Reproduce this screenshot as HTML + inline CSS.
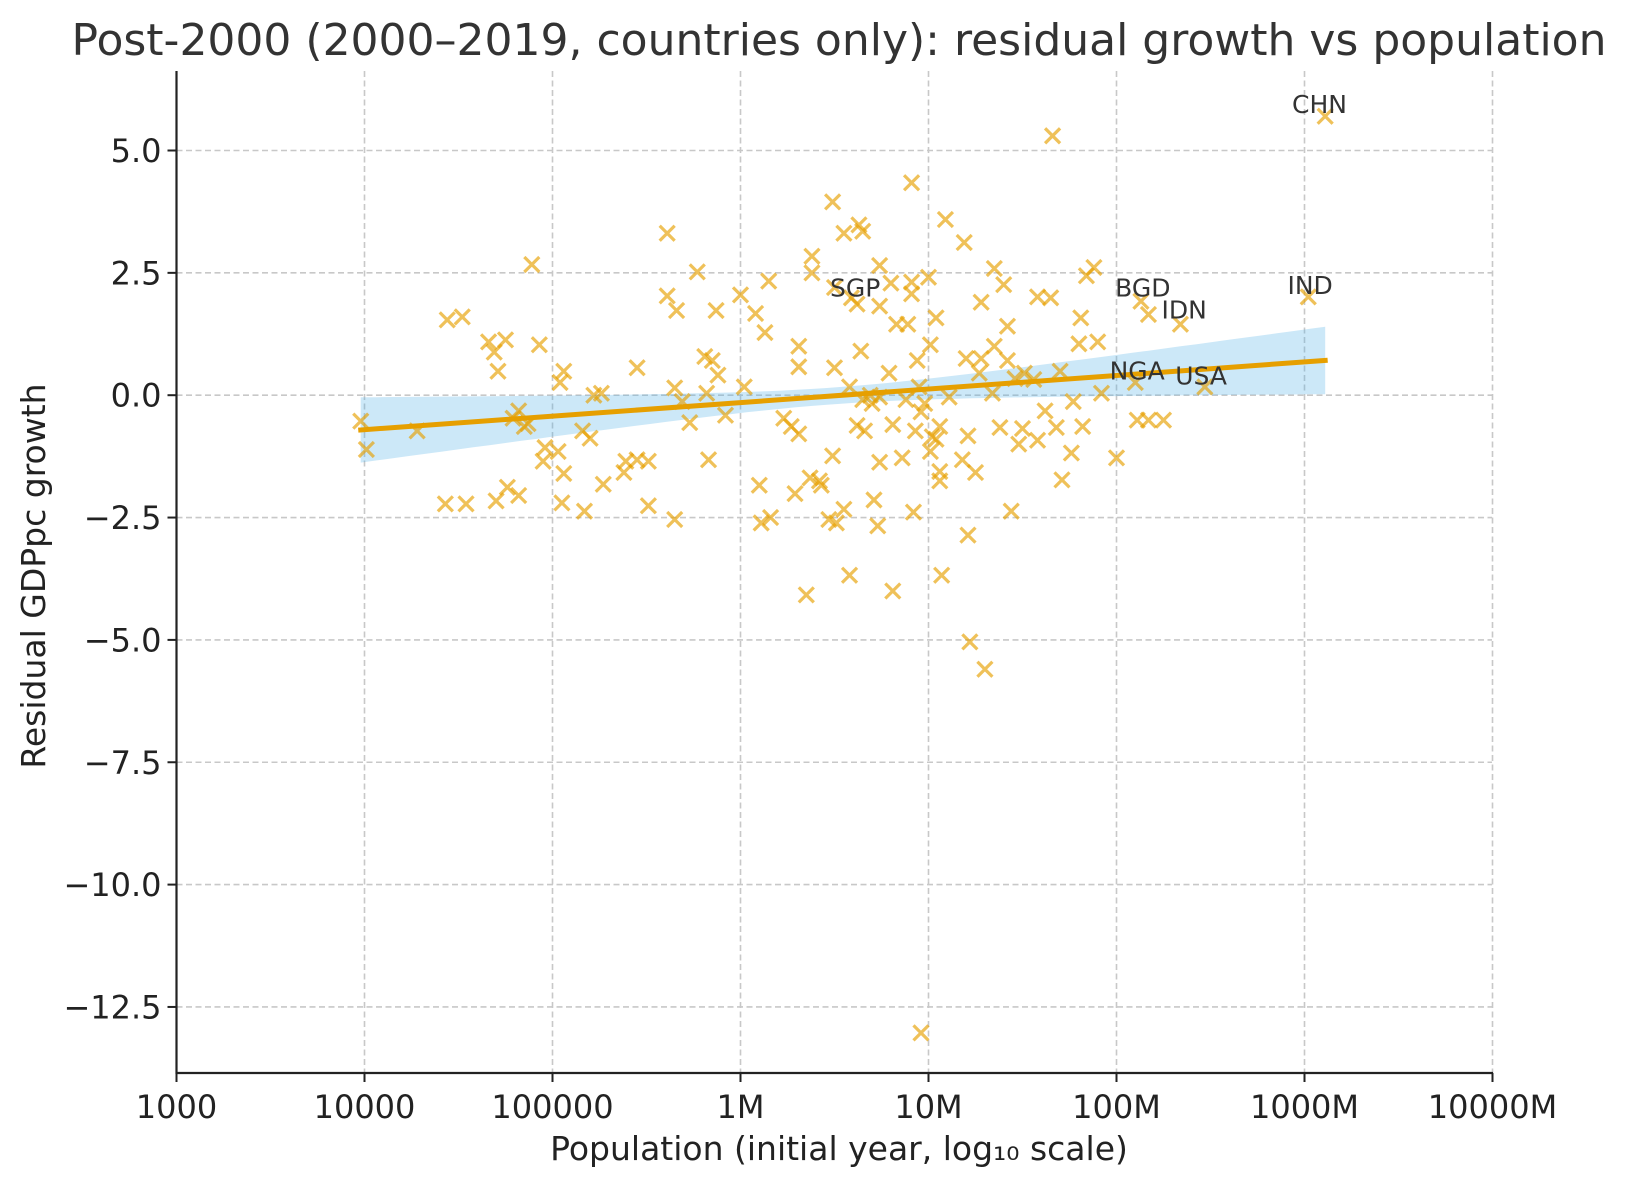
<!DOCTYPE html>
<html><head><meta charset="utf-8"><style>
html,body{margin:0;padding:0;background:#fff;}
svg{display:block;font-family:"DejaVu Sans","Liberation Sans",sans-serif;}
</style></head><body>
<svg id="chart" width="1630" height="1180" viewBox="0 0 1630 1180" xmlns="http://www.w3.org/2000/svg">
<rect width="1630" height="1180" fill="#fff"/>
<text x="839" y="55" font-size="44" fill="#333" text-anchor="middle">Post-2000 (2000–2019, countries only): residual growth vs population</text>
<g id="grid"></g>
<g id="band"></g>
<g id="points"></g>
<g id="fit"></g>
<g id="labels"></g>
<g id="axes"></g>
<text x="839" y="1160" font-size="33" fill="#222" text-anchor="middle">Population (initial year, log₁₀ scale)</text>
<text x="0" y="0" font-size="33" fill="#222" text-anchor="middle" transform="translate(45,576) rotate(-90)">Residual GDPpc growth</text>
</svg>
<script>
const logPop = [3.98,4.01,4.28,4.44,4.52,4.43,4.54,4.66,4.69,4.75,4.71,4.70,4.76,4.82,4.79,4.82,4.85,4.89,4.93,4.87,4.95,4.96,5.03,5.04,5.06,5.05,5.06,5.17,5.16,5.20,5.22,5.26,5.27,5.38,5.39,5.45,5.45,5.51,5.51,5.61,5.61,5.66,5.65,5.65,5.69,5.73,5.77,5.81,5.82,5.83,5.85,5.87,5.88,5.92,6.00,6.02,6.08,6.13,6.15,6.10,6.11,6.16,6.23,6.27,6.31,6.31,6.31,6.29,6.35,6.37,6.38,6.38,6.42,6.43,6.47,6.49,6.50,6.50,6.49,6.51,6.55,6.55,6.58,6.58,6.59,6.62,6.63,6.65,6.64,6.62,6.65,6.66,6.69,6.70,6.71,6.73,6.74,6.74,6.74,6.74,6.79,6.80,6.81,6.81,6.83,6.86,6.88,6.89,6.91,6.91,6.91,6.92,6.93,6.94,6.95,6.96,6.98,7.00,7.01,7.01,7.02,6.96,7.04,7.04,7.06,7.06,7.06,7.07,7.09,7.11,7.18,7.19,7.20,7.21,7.21,7.22,7.25,7.27,7.28,7.28,7.30,7.34,7.35,7.35,7.38,7.40,7.42,7.42,7.44,7.46,7.48,7.51,7.50,7.56,7.58,7.58,7.62,7.66,7.65,7.68,7.70,7.71,7.77,7.76,7.80,7.81,7.82,7.84,7.88,7.90,7.92,8.00,8.10,8.11,8.13,8.17,8.17,8.25,8.34,8.47,9.02,9.11];
const residual = [-0.53,-1.11,-0.73,1.54,1.60,-2.22,-2.22,1.09,0.88,1.13,0.49,-2.16,-1.88,-2.05,-0.47,-0.32,-0.64,2.67,1.03,-0.58,-1.35,-1.07,-1.15,0.26,0.49,-2.20,-1.60,-2.37,-0.73,-0.88,0,0.04,-1.82,-1.58,-1.35,0.56,-1.32,-1.35,-2.26,3.31,2.03,1.73,0.15,-2.54,-0.13,-0.56,2.52,0.79,0.04,-1.32,0.71,1.73,0.41,-0.41,2.05,0.17,1.67,1.28,2.33,-1.84,-2.61,-2.50,-0.47,-0.64,1.00,0.58,-0.79,-2.01,-4.08,-1.69,2.84,2.50,-1.75,-1.84,-2.54,3.95,2.20,0.56,-1.24,-2.61,3.31,-2.33,-3.68,0.17,1.99,1.86,3.48,3.35,0.90,-0.62,-0.09,-0.73,0,-0.17,-2.14,-2.67,2.65,1.82,-1.37,-0.04,0.45,2.29,-4.00,-0.60,1.45,-1.28,-0.09,1.45,4.34,2.31,2.07,-2.39,-0.73,0.71,0.17,-0.34,-0.17,2.41,1.03,-1.15,-0.85,-13.03,-0.90,1.58,-0.64,-1.56,-1.75,-3.68,3.59,-0.04,-1.32,3.12,0.75,-0.83,-2.86,-5.04,-1.58,0.45,1.90,0.75,-5.60,0.04,2.59,1.00,-0.66,2.26,0.71,1.41,-2.37,0.34,-1.00,0.45,-0.68,0.32,2.01,-0.92,-0.32,5.30,1.99,-0.66,0.49,-1.73,-0.13,-1.18,1.05,1.58,-0.64,2.44,2.61,1.09,0.04,-1.28,0.26,-0.51,1.92,1.65,-0.51,-0.51,1.45,0.17,2.01,5.70];
const fitLogPop = [3.98, 9.11];
const fitValue = [-0.71, 0.71];
const bandCenter = [6.5];
const bandA = [0.029];
const bandB = [0.0656];
const labelNames = ["SGP","BGD","IDN","NGA","USA","IND","CHN"];
const labelLogPop = [6.61,8.14,8.36,8.11,8.45,9.03,9.08];
const labelValue = [2.2,2.2,1.75,0.5,0.4,2.25,5.95];
const xTickVals = [3,4,5,6,7,8,9,10];
const xTickLabels = ["1000","10000","100000","1M","10M","100M","1000M","10000M"];
const yTickVals = [5,2.5,0,-2.5,-5,-7.5,-10,-12.5];
const yTickLabels = ["5.0","2.5","0.0","\u22122.5","\u22125.0","\u22127.5","\u221210.0","\u221212.5"];

const NS="http://www.w3.org/2000/svg";
const L=176.5,R=1492,T=71,B=1073;
function xs(lp){return L+(lp-3)*188;}
function ys(v){return 395.2-v*48.94;}
function mk(tag,attrs,parent){const e=document.createElementNS(NS,tag);for(const k in attrs)e.setAttribute(k,attrs[k]);parent.appendChild(e);return e;}
const grid=document.getElementById('grid');
xTickVals.forEach(v=>{const l=mk('line',{x1:xs(v),x2:xs(v),y1:T,y2:B,stroke:'#c8c8c8','stroke-width':1.6,'stroke-dasharray':'6,3.5'},grid);

});
yTickVals.forEach(v=>{const l=mk('line',{x1:L,x2:R,y1:ys(v),y2:ys(v),stroke:'#c8c8c8','stroke-width':1.6,'stroke-dasharray':'6,3.5'},grid);

});
const band=document.getElementById('band');
let up=[],lo=[];
for(let i=0;i<=60;i++){const x=fitLogPop[0]+(fitLogPop[1]-fitLogPop[0])*i/60;
const y=fitValue[0]+(fitValue[1]-fitValue[0])*(x-fitLogPop[0])/(fitLogPop[1]-fitLogPop[0]);
const h=Math.sqrt(bandA[0]+bandB[0]*(x-bandCenter[0])**2);
up.push(xs(x).toFixed(1)+','+ys(y+h).toFixed(1));lo.unshift(xs(x).toFixed(1)+','+ys(y-h).toFixed(1));}
const bp=mk('polygon',{points:up.concat(lo).join(' '),fill:'#56B4E9','fill-opacity':0.3},band);


const pts=document.getElementById('points');
logPop.forEach((lp,i)=>{const cx=xs(lp),cy=ys(residual[i]),s=7.5;
const g=mk('path',{d:`M${cx-s},${cy-s}L${cx+s},${cy+s}M${cx-s},${cy+s}L${cx+s},${cy-s}`,stroke:'#E69F00','stroke-opacity':0.65,'stroke-width':3.2,fill:'none'},pts);

});
const fl=mk('line',{x1:xs(fitLogPop[0]),y1:ys(fitValue[0]),x2:xs(fitLogPop[1]),y2:ys(fitValue[1]),stroke:'#E69F00','stroke-width':5,'stroke-linecap':'square'},document.getElementById('fit'));


const lab=document.getElementById('labels');
labelNames.forEach((n,i)=>{const t=mk('text',{x:xs(labelLogPop[i]),y:ys(labelValue[i])+9,'font-size':25,fill:'#333','text-anchor':'middle'},lab);t.textContent=n;

});
const ax=document.getElementById('axes');
const ls=mk('line',{x1:L,x2:L,y1:T,y2:B+1,stroke:'#222','stroke-width':2.2},ax);


const bs=mk('line',{x1:L-1,x2:R+1,y1:B,y2:B,stroke:'#222','stroke-width':2.2},ax);


xTickVals.forEach((v,i)=>{mk('line',{x1:xs(v),x2:xs(v),y1:B,y2:B+9,stroke:'#222','stroke-width':2},ax);
const t=mk('text',{x:xs(v),y:B+45,'font-size':32,fill:'#222','text-anchor':'middle'},ax);t.textContent=xTickLabels[i];

});
yTickVals.forEach((v,i)=>{mk('line',{x1:L-9,x2:L,y1:ys(v),y2:ys(v),stroke:'#222','stroke-width':2},ax);
const t=mk('text',{x:L-15,y:ys(v)+11.5,'font-size':32,fill:'#222','text-anchor':'end'},ax);t.textContent=yTickLabels[i];

});
</script>
</body></html>
